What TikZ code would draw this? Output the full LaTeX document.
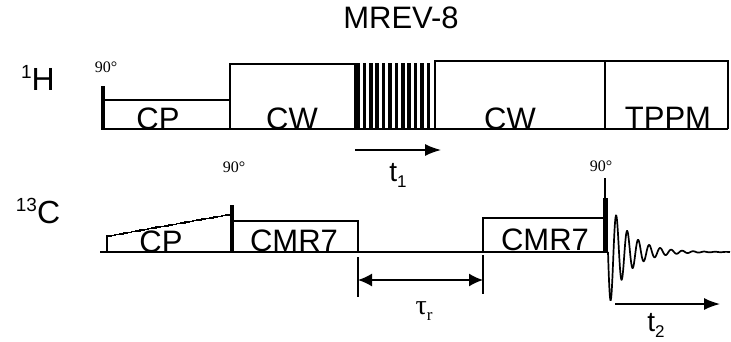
\documentclass[tikz,border=0pt]{standalone}
\usepackage{fontspec}
\setmainfont{Liberation Sans}
\newfontfamily\degfont{Liberation Serif}
\usetikzlibrary{arrows.meta}
\newcommand{\nuc}[2]{\raisebox{12pt}{\fontsize{19}{19}\selectfont #1}#2}
\newcommand{\lowidx}[2]{#1\raisebox{-6pt}{\fontsize{17}{17}\selectfont #2}}

\begin{document}
\begin{tikzpicture}[
  x=1pt,y=-1pt,
  >=Latex,
  every node/.style={inner sep=0pt},
  line/.style={line width=1.5pt},
  pulse/.style={line width=4.5pt},
  tag/.style={font=\fontsize{31}{32}\selectfont,anchor=base},
  chan/.style={font=\fontsize{32}{33}\selectfont,anchor=base},
  deg/.style={font=\degfont\fontsize{16}{16}\selectfont},
  timer/.style={font=\fontsize{28}{29}\selectfont,anchor=base},
  span/.style={-{Latex[length=16pt,width=12pt]},line width=1.5pt},
  both/.style={{Latex[length=14pt,width=13pt]}-{Latex[length=14pt,width=13pt]},line width=1.5pt}
]
  \useasboundingbox (0,0) rectangle (731,341);

  % 1H channel
  \node[chan] (hlab) at (38,90) {\nuc{1}{H}};
  \node[tag] (mrev) at (401,28) {MREV-8};
  \draw[line] (103,129) -- (728,129);
  \draw[line] (103,100) -- (230,100);
  \draw[line] (230,129) -- (230,64) -- (355,64) -- (355,129);
  \foreach \i in {0,...,11}
    \draw[line width=3.6pt] ({358+\i*6.4},63) -- ({358+\i*6.4},129);
  \draw[line] (435,129) -- (435,61) -- (728,61) -- (728,129);
  \draw[line] (605,61) -- (605,129);
  \draw[pulse] (103,86) -- (103,129.7);
  \node[deg] (hdeg) at (106,67) {90°};
  \node[tag] (hcp) at (158,129) {CP};
  \node[tag] (hcw) at (292,129) {CW};
  \node[tag] (hcwb) at (510,129) {CW};
  \node[tag] (tppm) at (668,128) {TPPM};
  \coordinate (t1a) at (355,150);
  \coordinate (t1b) at (441,150);
  \draw[span] (t1a) -- (t1b);
  \node[timer] (t1) at (398,181) {\lowidx{t}{1}};

  % 13C channel
  \node[chan] (clab) at (38,223) {\nuc{13}{C}};
  \draw[line] (100,252) -- (608,252);
  \draw[line] (107,252) -- (107,236)
    \foreach \i in {1,...,30} { -- ++(4.1,0) -- ++(0,-0.73) };
  \draw[pulse] (232,205) -- (232,252.7);
  \draw[line] (234,221) -- (358,221) -- (358,252);
  \draw[line] (483,252) -- (483,218) -- (603,218);
  \draw[line] (605,178) -- (605,198);
  \draw[line width=5pt] (605,198) -- (605,252);
  \draw[line width=1.7pt] plot[domain=0:122,samples=400]
    ({608+\x},{252+55*exp(-\x/20)*sin(32.727*\x)});
  \node[deg] (cdeg) at (234,167) {90°};
  \node[deg] (fdeg) at (601,166) {90°};
  \node[tag] (ccp) at (161,252) {CP};
  \node[tag] (cmra) at (294,251) {CMR7};
  \node[tag] (cmrb) at (545,250) {CMR7};

  \coordinate (tra) at (358,257);
  \coordinate (trb) at (483,255);
  \draw[line] (tra) -- ++(0,40);
  \draw[line] (trb) -- ++(0,39);
  \draw[both] ([yshift=-23pt]tra) -- ([yshift=-25pt]trb);
  \node[timer,font=\degfont\fontsize{28}{29}\selectfont] (taur) at (424,314) {\lowidx{τ}{r}};
  \coordinate (t2a) at (615,304);
  \coordinate (t2b) at (720,304);
  \draw[span] (t2a) -- (t2b);
  \node[timer] (t2) at (656,331) {\lowidx{t}{2}};
\end{tikzpicture}
\end{document}
